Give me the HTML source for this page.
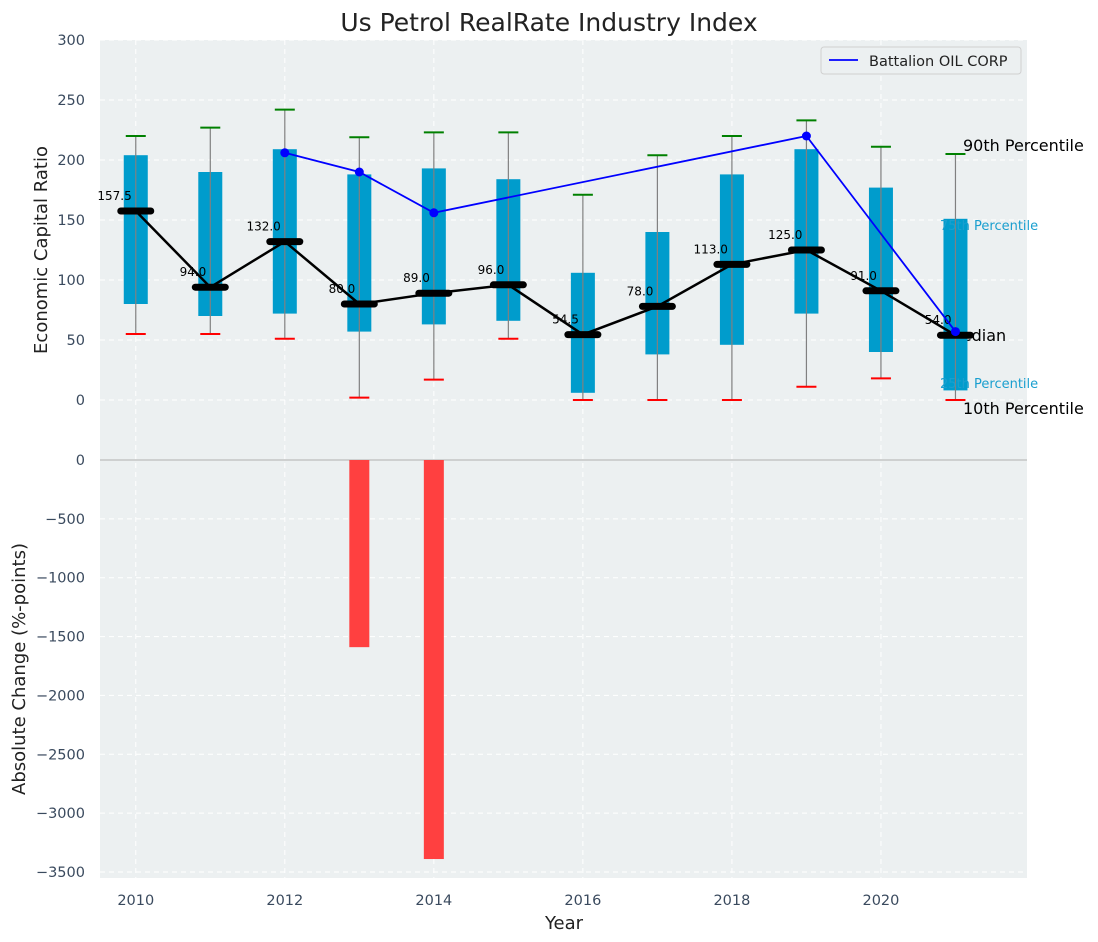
<!DOCTYPE html>
<html><head><meta charset="utf-8"><style>
body{margin:0;background:#fff;}
svg{display:block;font-family:"DejaVu Sans","Liberation Sans",sans-serif;}
</style></head><body>
<svg id="chart" width="1098" height="942" xmlns="http://www.w3.org/2000/svg"></svg>
<script>
const years=[2010,2011,2012,2013,2014,2015,2016,2017,2018,2019,2020,2021];
const p10=[55,55,51,2,17,51,0,0,0,11,18,0];
const p25=[80,70,72,57,63,66,6,38,46,72,40,8];
const p50=[157.5,94,132,80,89,96,54.5,78,113,125,91,54];
const p75=[204,190,209,188,193,184,106,140,188,209,177,151];
const p90=[220,227,242,219,223,223,171,204,220,233,211,205];
const companyYears=[2012,2013,2014,2019,2021];
const companyVals=[206,190,156,220,57];
const changeYears=[2013,2014];
const changeVals=[-1590,-3390];
const topTicks=[0,50,100,150,200,250,300];
const botTicks=[0,-500,-1000,-1500,-2000,-2500,-3000,-3500];
const xTicks=[2010,2012,2014,2016,2018,2020];

const NS="http://www.w3.org/2000/svg";
const svg=document.getElementById('chart');
const L=100,R=1027,T1=40,B1=460,T2=460,B2=878;
const x=v=>L+(v-2009.52)*(R-L)/(2021.96-2009.52);
const y1=v=>T1+(300-v)*(B1-T1)/350;
const y2=v=>T2+(0-v)*0.11771;
function el(t,a,p){const e=document.createElementNS(NS,t);for(const k in a)e.setAttribute(k,a[k]);(p||svg).appendChild(e);return e;}
function tx(s,a,p){const e=el('text',a,p);e.textContent=s;return e;}

let bg=el('rect',{x:L,y:T1,width:R-L,height:B2-T1,fill:'#ecf0f1'});

const grid=el('g',{stroke:'#fff','stroke-dasharray':'5,4','stroke-width':1});

xTicks.forEach(v=>el('line',{x1:x(v),x2:x(v),y1:T1,y2:B2},grid));
topTicks.forEach(v=>el('line',{x1:L,x2:R,y1:y1(v),y2:y1(v)},grid));
botTicks.slice(1).forEach(v=>el('line',{x1:L,x2:R,y1:y2(v),y2:y2(v)},grid));
el('line',{x1:L,x2:R,y1:T2,y2:T2,stroke:'#b0b0b0','stroke-width':1});

// ticks
const tk=el('g',{fill:'#3a4a5e','font-size':14.5});

topTicks.forEach(v=>tx(v,{x:85,y:y1(v)+5,'text-anchor':'end'},tk));
botTicks.forEach(v=>tx(String(v).replace('-','\u2212'),{x:85,y:y2(v)+5,'text-anchor':'end'},tk));
xTicks.forEach(v=>tx(v,{x:x(v),y:905,'text-anchor':'middle'},tk));

const lx=x(2021);
// black annotations behind boxes
const ann=el('g',{});

tx('90th Percentile',{x:963,y:151,'font-size':16,fill:'#000'},ann);
tx('Median',{x:948,y:341,'font-size':16,fill:'#000'},ann);
tx('10th Percentile',{x:963,y:414,'font-size':16,fill:'#000'},ann);

// boxes
years.forEach((yr,i)=>{
  const g=el('g',{});
  
  el('rect',{x:x(yr)-12,y:y1(p75[i]),width:24,height:y1(p25[i])-y1(p75[i]),fill:'#009ccc'},g);
  el('line',{x1:x(yr),x2:x(yr),y1:y1(p90[i]),y2:y1(p10[i]),stroke:'#808080','stroke-width':1.2},g);
  el('line',{x1:x(yr)-10,x2:x(yr)+10,y1:y1(p90[i]),y2:y1(p90[i]),stroke:'green','stroke-width':2},g);
  el('line',{x1:x(yr)-10,x2:x(yr)+10,y1:y1(p10[i]),y2:y1(p10[i]),stroke:'red','stroke-width':2},g);
});
const ann2=el('g',{});

tx('75th Percentile',{x:940,y:230,'font-size':13,fill:'#1a9fcf'},ann2);
tx('25th Percentile',{x:940,y:388,'font-size':13,fill:'#1a9fcf'},ann2);
// median line
const ml=el('polyline',{points:years.map((yr,i)=>x(yr)+','+y1(p50[i])).join(' '),fill:'none',stroke:'#000','stroke-width':2.5});

years.forEach((yr,i)=>{
  const m=el('line',{x1:x(yr)-15,x2:x(yr)+15,y1:y1(p50[i]),y2:y1(p50[i]),stroke:'#000','stroke-width':7,'stroke-linecap':'round'});
  
  const t=tx(p50[i].toFixed(1),{x:x(yr)-4,y:y1(p50[i])-11,'font-size':12,fill:'#000','text-anchor':'end'});
  
});
// company
const cl=el('polyline',{points:companyYears.map((yr,i)=>x(yr)+','+y1(companyVals[i])).join(' '),fill:'none',stroke:'#0000ff','stroke-width':1.8});

companyYears.forEach((yr,i)=>{
  const c=el('circle',{cx:x(yr),cy:y1(companyVals[i]),r:4.5,fill:'#0000ff'});
  
});
// bars
changeYears.forEach((yr,i)=>{
  const b=el('rect',{x:x(yr)-10,y:y2(0),width:20,height:y2(changeVals[i])-y2(0),fill:'#ff4040'});
  
});
// legend
const lg=el('g',{});

el('rect',{x:821,y:47,width:200,height:27,rx:3,fill:'#ecf0f1',stroke:'#d0d0d0'},lg);
el('line',{x1:829,x2:858,y1:60,y2:60,stroke:'#0000ff','stroke-width':1.8},lg);
tx('Battalion OIL CORP',{x:869,y:66,'font-size':14.5,fill:'#222'},lg);
// titles
let t=tx('Us Petrol RealRate Industry Index',{x:549,y:31,'font-size':25,fill:'#222','text-anchor':'middle'});

t=tx('Year',{x:564,y:929,'font-size':18,fill:'#222','text-anchor':'middle'});

t=tx('Economic Capital Ratio',{x:0,y:0,'font-size':18,fill:'#222','text-anchor':'middle',transform:'translate(47,250) rotate(-90)'});

t=tx('Absolute Change (%-points)',{x:0,y:0,'font-size':18,fill:'#222','text-anchor':'middle',transform:'translate(25,669) rotate(-90)'});

</script>
</body></html>
